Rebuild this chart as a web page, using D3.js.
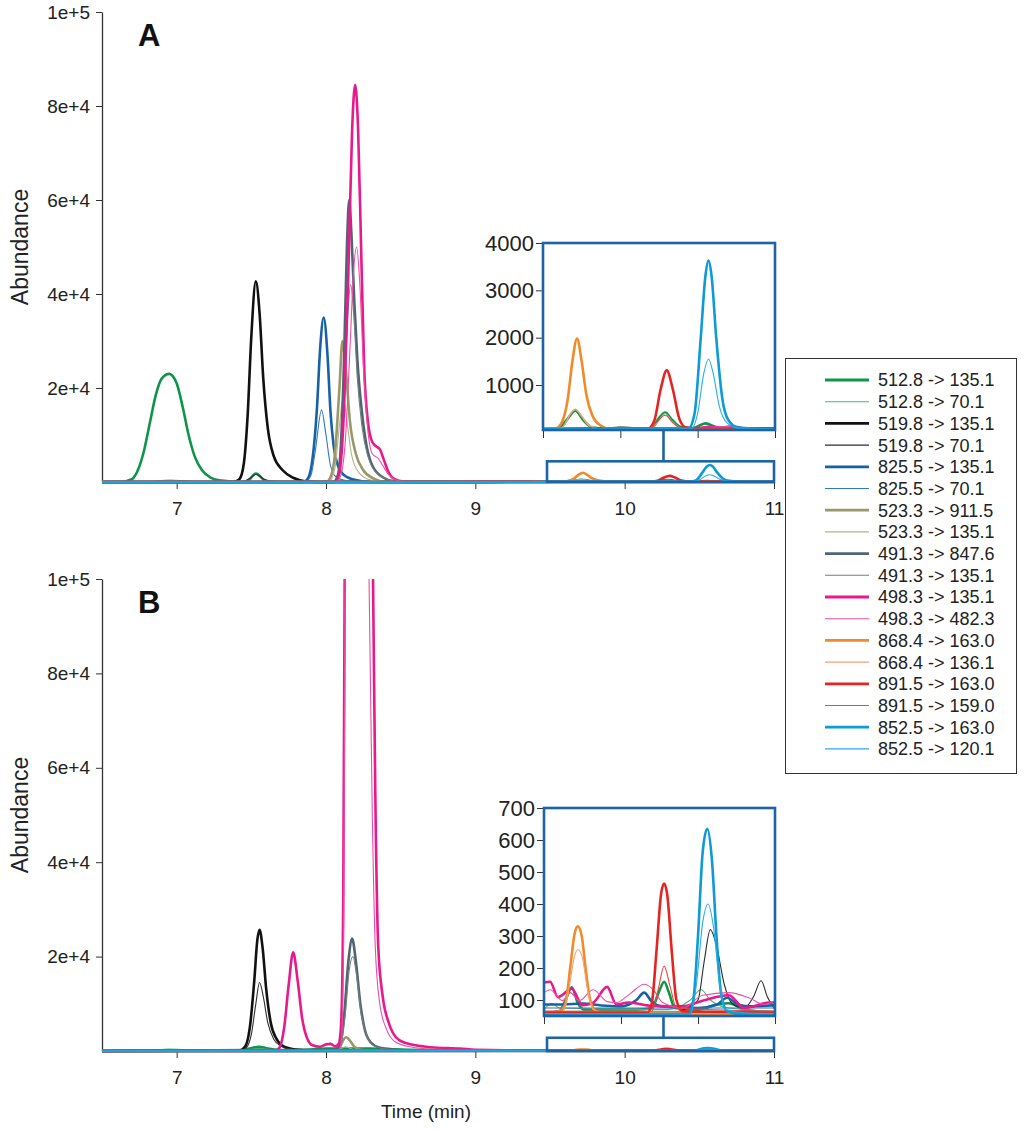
<!DOCTYPE html>
<html lang="en">
<head>
<meta charset="UTF-8">
<title>MRM chromatograms A / B</title>
<style>
  body { margin: 0; background: #fff; }
  svg { display: block; font-family: "Liberation Sans", Arial, sans-serif; }
  .tick line { stroke: #333; }
  .tick text { fill: #222; }
</style>
</head>
<body>
<svg width="1024" height="1130"></svg>
<script src="https://d3js.org/d3.v7.min.js"></script>
<script>
// transitions, as in the legend
const traceLabels = [
  "512.8 -> 135.1", "512.8 -> 70.1", "519.8 -> 135.1", "519.8 -> 70.1",
  "825.5 -> 135.1", "825.5 -> 70.1", "523.3 -> 911.5", "523.3 -> 135.1",
  "491.3 -> 847.6", "491.3 -> 135.1", "498.3 -> 135.1", "498.3 -> 482.3",
  "868.4 -> 163.0", "868.4 -> 136.1", "891.5 -> 163.0", "891.5 -> 159.0",
  "852.5 -> 163.0", "852.5 -> 120.1"
];
const traceColors = [
  "#0e9548", "#4bb37a", "#111111", "#2e2e2e",
  "#1762a6", "#3079bd", "#98986a", "#b5b38e",
  "#4f6474", "#71817a", "#e8198b", "#ec4fa3",
  "#f08a2a", "#f2a37a", "#e52421", "#e84a44",
  "#0d9ad6", "#28aee3"
];
const traceThick = [true, false, true, false, true, false, true, false, true,
  false, true, false, true, false, true, false, true, false];

// axis ticks
const xTicks = [7, 8, 9, 10, 11];
const yTickValues = [20000, 40000, 60000, 80000, 100000];
const yTickLabels = ["2e+4", "4e+4", "6e+4", "8e+4", "1e+5"];
const insetXTicks = [9.5, 10, 10.5, 11];
const insetATicks = [1000, 2000, 3000, 4000];
const insetBTicks = [100, 200, 300, 400, 500, 600, 700];
const insetADomain = [50, 4000];
const insetBDomain = [50, 700];
const zoomWindow = [9.48, 11];
const zoomBoxTopA = 4400;
const zoomBoxTopB = 2800;
const connectorTime = 10.26;

// ---- panel A: [time (min), abundance] ----
const a512_135 = [[6.5,0],[6.62,0],[6.7,600],[6.74,2500],[6.78,6500],[6.82,12500],[6.86,18500],[6.9,22000],[6.95,23000],[7.0,21000],[7.04,16000],[7.08,10000],[7.12,5500],[7.17,2500],[7.23,900],[7.3,300],[7.4,60],[7.47,80],[7.53,1800],[7.6,200],[7.7,40],[9.5,70],[9.6,80],[9.65,250],[9.71,460],[9.76,260],[9.82,100],[9.9,75],[10.2,80],[10.25,300],[10.29,420],[10.33,280],[10.39,110],[10.47,90],[10.55,190],[10.62,110],[10.7,80],[11,75]];
const a512_70 = [[6.5,0],[6.8,0],[6.9,300],[6.96,420],[7.05,250],[7.2,0],[9.5,65],[9.8,70],[10.5,65],[11,65]];
const a519_135 = [[6.5,0],[7.38,0],[7.42,600],[7.45,4000],[7.475,14000],[7.5,31000],[7.53,42700],[7.555,36000],[7.58,22000],[7.61,11500],[7.65,5500],[7.71,2500],[7.78,900],[7.86,150],[7.95,0],[9.5,70],[9.9,80],[10.0,95],[10.1,85],[10.5,80],[11,85]];
const a519_70 = [[6.5,0],[7.44,0],[7.49,800],[7.53,1600],[7.58,700],[7.65,0],[9.5,65],[11,70]];
const a825_135 = [[6.5,0],[7.85,0],[7.88,800],[7.91,5000],[7.94,16000],[7.96,28000],[7.985,35000],[8.01,27000],[8.03,15000],[8.05,8000],[8.08,3500],[8.12,1500],[8.2,400],[8.3,0],[9.5,60],[10.0,70],[10.5,65],[11,70]];
const a825_70 = [[6.5,0],[7.86,0],[7.9,1500],[7.93,7000],[7.97,15300],[8.0,10000],[8.03,3500],[8.07,1000],[8.15,200],[8.25,0],[9.5,60],[11,65]];
const a523_911 = [[6.5,0],[8.0,0],[8.03,1000],[8.06,6000],[8.09,20000],[8.11,30000],[8.135,23000],[8.16,13000],[8.2,6000],[8.25,2500],[8.32,700],[8.4,0],[9.5,60],[11,65]];
const a523_135 = [[6.5,0],[8.02,0],[8.06,3000],[8.09,12000],[8.115,18000],[8.14,13000],[8.17,6000],[8.22,2000],[8.3,400],[8.4,0],[9.5,60],[9.62,100],[9.67,350],[9.71,490],[9.75,330],[9.8,130],[9.88,70],[10.2,75],[10.25,260],[10.29,400],[10.33,250],[10.4,80],[11,70]];
const a491_847 = [[6.5,0],[8.05,0],[8.08,1500],[8.1,8000],[8.12,25000],[8.14,50000],[8.155,60000],[8.17,53000],[8.19,38000],[8.21,26000],[8.24,15000],[8.27,8000],[8.31,3500],[8.38,1000],[8.45,200],[8.55,0],[9.5,65],[11,70]];
const a491_135 = [[6.5,0],[8.06,0],[8.09,2000],[8.12,15000],[8.145,35000],[8.165,42000],[8.185,36000],[8.21,22000],[8.24,12000],[8.28,5500],[8.33,2200],[8.4,700],[8.5,0],[9.5,60],[11,60]];
const a498_135 = [[6.5,0],[8.06,0],[8.09,2000],[8.12,15000],[8.15,45000],[8.175,75000],[8.195,84500],[8.215,75000],[8.235,50000],[8.255,25000],[8.28,13000],[8.31,8500],[8.34,7500],[8.36,7000],[8.39,4500],[8.42,2000],[8.46,600],[8.52,100],[8.6,0],[9.5,65],[10.4,70],[10.5,90],[10.58,120],[10.65,100],[10.72,130],[10.8,85],[10.9,70],[11,70]];
const a498_482 = [[6.5,0],[8.07,0],[8.1,1500],[8.13,9000],[8.16,28000],[8.185,45000],[8.205,50000],[8.225,43000],[8.25,25000],[8.28,11000],[8.31,6000],[8.35,5000],[8.38,3500],[8.42,1500],[8.47,400],[8.55,0],[9.5,60],[10.0,70],[10.15,75],[10.25,90],[10.35,80],[10.6,110],[10.7,125],[10.8,95],[11,75]];
const a868_163 = [[6.5,0],[9.3,0],[9.5,70],[9.58,80],[9.62,200],[9.66,700],[9.69,1500],[9.72,1980],[9.75,1500],[9.78,800],[9.82,350],[9.87,150],[9.93,80],[10.5,75],[11,70]];
const a868_136 = [[6.5,0],[9.4,0],[9.5,65],[9.6,70],[9.64,150],[9.68,400],[9.71,480],[9.75,350],[9.8,150],[9.86,80],[11,65]];
const a891_163 = [[6.5,0],[9.4,0],[9.5,65],[10.15,75],[10.18,80],[10.22,250],[10.26,900],[10.3,1310],[10.34,900],[10.38,300],[10.42,110],[10.5,80],[11,70]];
const a891_159 = [[6.5,0],[9.4,0],[9.5,60],[10.18,70],[10.23,200],[10.29,360],[10.34,200],[10.4,80],[11,65]];
const a852_163 = [[6.5,0],[9.4,0],[9.5,70],[10.44,80],[10.48,400],[10.52,2000],[10.55,3300],[10.57,3630],[10.59,3300],[10.62,2000],[10.66,700],[10.7,250],[10.76,100],[10.85,80],[11,75]];
const a852_120 = [[6.5,0],[9.4,0],[9.5,65],[10.46,80],[10.5,400],[10.54,1250],[10.57,1550],[10.6,1250],[10.64,550],[10.69,200],[10.76,90],[11,70]];

// ---- panel B ----
const b512_135 = [[6.5,0],[7.4,100],[7.5,600],[7.55,900],[7.6,600],[7.7,150],[7.9,300],[8.0,500],[8.3,500],[8.5,300],[9.0,100],[9.5,60],[9.6,65],[9.64,100],[9.68,140],[9.72,90],[9.76,70],[9.9,70],[10.1,70],[10.2,75],[10.25,130],[10.28,157],[10.31,125],[10.35,75],[10.5,70],[10.62,85],[10.7,90],[10.8,70],[11,60]];
const b512_70 = [[6.5,0],[6.8,100],[6.95,400],[7.1,200],[7.4,100],[7.55,500],[7.7,100],[9.5,70],[9.55,90],[9.6,75],[10.3,70],[10.45,100],[10.52,132],[10.58,100],[10.7,75],[11,65]];
const b519_135 = [[6.5,0],[7.42,100],[7.46,1000],[7.49,5000],[7.52,15000],[7.54,23500],[7.555,25700],[7.575,22000],[7.6,13000],[7.63,6000],[7.67,2500],[7.72,900],[7.8,300],[7.9,100],[9.5,60],[11,60]];
const b519_70 = [[6.5,0],[7.43,100],[7.47,800],[7.5,3500],[7.53,10000],[7.555,14500],[7.58,11500],[7.61,6000],[7.65,2500],[7.7,1000],[7.78,300],[7.9,100],[9.5,60],[10.3,60],[10.45,80],[10.5,100],[10.54,220],[10.58,320],[10.62,270],[10.67,150],[10.72,90],[10.8,75],[10.86,110],[10.91,160],[10.95,110],[11,70]];
const b825_135 = [[6.5,0],[7.5,100],[9.0,100],[9.5,86],[9.62,86],[9.75,89],[9.9,82],[10.0,80],[10.1,100],[10.15,123],[10.2,95],[10.26,80],[10.5,75],[10.62,85],[10.69,107],[10.76,85],[10.85,80],[11,84]];
const b825_70 = [[6.5,0],[9.5,75],[11,75]];
const b523_911 = [[6.5,0],[8.05,100],[8.09,700],[8.115,2300],[8.135,2900],[8.16,2200],[8.19,900],[8.23,250],[8.3,100],[9.5,60],[11,60]];
const b523_135 = [[6.5,0],[8.07,100],[8.13,900],[8.2,200],[9.5,65],[11,65]];
const b491_847 = [[6.5,0],[7.5,200],[8.0,200],[8.06,300],[8.09,1000],[8.12,7000],[8.15,19000],[8.175,23800],[8.2,19000],[8.23,10000],[8.26,4500],[8.3,1800],[8.36,700],[8.45,300],[8.55,100],[9.5,60],[11,58]];
const b491_135 = [[6.5,0],[8.07,100],[8.1,1200],[8.13,8000],[8.155,17000],[8.18,20000],[8.205,16000],[8.235,8000],[8.27,3500],[8.31,1400],[8.38,500],[8.5,150],[9.5,62],[11,60]];
const b498_135 = [[6.5,0],[7.0,100],[7.66,100],[7.69,800],[7.72,5000],[7.75,14000],[7.78,20900],[7.81,15000],[7.84,7000],[7.87,3000],[7.91,1200],[7.96,900],[8.0,1400],[8.03,1500],[8.06,1000],[8.085,1500],[8.1,5000],[8.115,30000],[8.125,100000],[8.16,220000],[8.22,280000],[8.28,200000],[8.315,100000],[8.33,55000],[8.35,22000],[8.38,11500],[8.42,6000],[8.49,2300],[8.6,1200],[8.7,800],[8.9,500],[9.0,250],[9.2,150],[9.5,155],[9.54,157],[9.59,109],[9.68,135],[9.75,84],[9.82,92],[9.91,141],[9.97,86],[10.05,92],[10.2,82],[10.4,80],[10.53,98],[10.7,115],[10.8,75],[10.97,92],[11,92]];
const b498_482 = [[6.5,0],[7.0,100],[8.0,200],[8.09,300],[8.105,3000],[8.118,25000],[8.128,100000],[8.16,200000],[8.21,240000],[8.26,180000],[8.288,100000],[8.31,50000],[8.33,22000],[8.36,10000],[8.4,5000],[8.47,1800],[8.6,700],[8.8,300],[9.0,150],[9.5,123],[9.54,132],[9.62,98],[9.67,123],[9.73,98],[9.82,132],[9.91,95],[9.97,92],[10.06,120],[10.15,149],[10.21,132],[10.27,92],[10.4,75],[10.53,115],[10.7,123],[10.83,107],[10.93,86],[11,98]];
const b868_163 = [[6.5,0],[9.5,60],[9.6,65],[9.64,90],[9.67,200],[9.7,310],[9.72,330],[9.745,300],[9.77,200],[9.8,100],[9.84,65],[9.9,60],[10.5,55],[11,55]];
const b868_136 = [[6.5,0],[9.5,58],[9.62,60],[9.66,130],[9.7,240],[9.72,258],[9.75,230],[9.78,140],[9.82,70],[9.9,60],[11,58]];
const b891_163 = [[6.5,0],[9.5,62],[10.17,60],[10.2,90],[10.23,250],[10.26,430],[10.28,464],[10.3,430],[10.33,250],[10.36,100],[10.4,65],[11,62]];
const b891_159 = [[6.5,0],[9.5,65],[10.2,65],[10.24,130],[10.28,206],[10.32,140],[10.36,75],[11,65]];
const b852_163 = [[6.5,0],[9.5,55],[10.44,55],[10.47,100],[10.5,300],[10.53,560],[10.56,635],[10.59,540],[10.62,300],[10.65,120],[10.69,65],[10.8,55],[11,55]];
const b852_120 = [[6.5,0],[9.5,58],[10.45,55],[10.49,150],[10.53,340],[10.565,400],[10.6,330],[10.64,150],[10.68,70],[10.8,60],[11,58]];

const tracesA = [a512_135, a512_70, a519_135, a519_70, a825_135, a825_70, a523_911, a523_135,
  a491_847, a491_135, a498_135, a498_482, a868_163, a868_136, a891_163, a891_159, a852_163, a852_120];
const tracesB = [b512_135, b512_70, b519_135, b519_70, b825_135, b825_70, b523_911, b523_135,
  b491_847, b491_135, b498_135, b498_482, b868_163, b868_136, b891_163, b891_159, b852_163, b852_120];

const svg = d3.select("svg");
const boxBlue = "#1d63a5";
const plotLeft = 102, plotRight = 774;

const x = d3.scaleLinear().domain([6.5, 11]).range([plotLeft, plotRight]);

function drawPanel(id, traces, o) {
  const y = d3.scaleLinear().domain([0, 100000]).range([o.bottom, o.top]);
  const g = svg.append("g");

  g.append("clipPath").attr("id", "clip" + id)
    .append("rect")
    .attr("x", plotLeft).attr("y", o.top)
    .attr("width", plotRight - plotLeft).attr("height", o.bottom - o.top + 2);

  const line = d3.line()
    .x(d => x(d[0]))
    .y(d => y(d[1]))
    .curve(d3.curveMonotoneX);

  // axes
  g.append("g")
    .attr("transform", `translate(0,${o.bottom})`)
    .call(d3.axisBottom(x).tickValues(xTicks).tickFormat(d3.format("d"))
      .tickSize(7).tickSizeOuter(0).tickPadding(13))
    .call(a => a.attr("font-size", 19).attr("font-family", null))
    .call(a => a.select(".domain").attr("stroke", "#333").attr("stroke-width", 1.3));

  g.append("g")
    .attr("transform", `translate(${plotLeft},0)`)
    .call(d3.axisLeft(y).tickValues(yTickValues).tickFormat((d, i) => yTickLabels[i])
      .tickSize(6).tickSizeOuter(0).tickPadding(6))
    .call(a => a.attr("font-size", 19).attr("font-family", null))
    .call(a => a.select(".domain").attr("stroke", "#333").attr("stroke-width", 1.3));

  g.append("text")
    .attr("transform", `translate(22,${(o.top + o.bottom) / 2}) rotate(-90)`)
    .attr("text-anchor", "middle")
    .attr("dominant-baseline", "middle")
    .attr("font-size", 23)
    .attr("fill", "#222")
    .text("Abundance");

  g.append("text")
    .attr("x", 138).attr("y", o.top + 34)
    .attr("font-size", 31).attr("font-weight", "bold")
    .attr("fill", "#111")
    .text(o.letter);

  // traces
  g.append("g").attr("clip-path", `url(#clip${id})`)
    .selectAll("path")
    .data(traces)
    .join("path")
    .attr("fill", "none")
    .attr("stroke", (d, i) => traceColors[i])
    .attr("stroke-width", (d, i) => traceThick[i] ? 2.6 : 1.1)
    .attr("stroke-linejoin", "round")
    .attr("d", line);

  // zoom window on the baseline
  const wx0 = x(zoomWindow[0]), wx1 = x(zoomWindow[1]);
  const wy = y(o.windowTop);
  g.append("rect")
    .attr("x", wx0).attr("y", wy)
    .attr("width", wx1 - wx0).attr("height", o.bottom - wy)
    .attr("fill", "none").attr("stroke", boxBlue).attr("stroke-width", 2.6);

  // inset
  const ix = d3.scaleLinear().domain([9.5, 11]).range([o.inset.x0, o.inset.x1]);
  const iy = d3.scaleLinear().domain(o.inset.domain).range([o.inset.y1, o.inset.y0]);

  g.append("line")
    .attr("x1", x(connectorTime)).attr("x2", x(connectorTime))
    .attr("y1", o.inset.y1).attr("y2", wy)
    .attr("stroke", boxBlue).attr("stroke-width", 2.6);

  g.append("clipPath").attr("id", "iclip" + id)
    .append("rect")
    .attr("x", o.inset.x0).attr("y", o.inset.y0)
    .attr("width", o.inset.x1 - o.inset.x0).attr("height", o.inset.y1 - o.inset.y0);

  g.append("rect")
    .attr("x", o.inset.x0).attr("y", o.inset.y0)
    .attr("width", o.inset.x1 - o.inset.x0).attr("height", o.inset.y1 - o.inset.y0)
    .attr("fill", "#fff");

  const iline = d3.line()
    .x(d => ix(d[0]))
    .y(d => iy(Math.max(d[1], o.inset.domain[0] - 20)))
    .curve(d3.curveMonotoneX);

  g.append("g").attr("clip-path", `url(#iclip${id})`)
    .selectAll("path")
    .data(traces)
    .join("path")
    .attr("fill", "none")
    .attr("stroke", (d, i) => traceColors[i])
    .attr("stroke-width", (d, i) => traceThick[i] ? 2.6 : 1.1)
    .attr("stroke-linejoin", "round")
    .attr("d", d => iline(d.filter(p => p[0] >= 9.3)));

  g.append("g")
    .attr("transform", `translate(0,${o.inset.y1})`)
    .call(d3.axisBottom(ix).tickValues(insetXTicks).tickFormat("").tickSize(8).tickSizeOuter(0))
    .call(a => a.select(".domain").remove());

  g.append("g")
    .attr("transform", `translate(${o.inset.x0},0)`)
    .call(d3.axisLeft(iy).tickValues(o.inset.ticks).tickFormat(d3.format("d"))
      .tickSize(7).tickPadding(2))
    .call(a => a.attr("font-size", 22).attr("font-family", null))
    .call(a => a.select(".domain").remove());

  g.append("rect")
    .attr("x", o.inset.x0).attr("y", o.inset.y0)
    .attr("width", o.inset.x1 - o.inset.x0).attr("height", o.inset.y1 - o.inset.y0)
    .attr("fill", "none").attr("stroke", boxBlue).attr("stroke-width", 2.6);
}

drawPanel("A", tracesA, {
  top: 12, bottom: 482, letter: "A", windowTop: zoomBoxTopA,
  inset: { x0: 543, x1: 775, y0: 243, y1: 430, domain: insetADomain, ticks: insetATicks }
});
drawPanel("B", tracesB, {
  top: 579, bottom: 1051, letter: "B", windowTop: zoomBoxTopB,
  inset: { x0: 544, x1: 775, y0: 808, y1: 1016, domain: insetBDomain, ticks: insetBTicks }
});

svg.append("text")
  .attr("x", 426).attr("y", 1118)
  .attr("text-anchor", "middle")
  .attr("font-size", 19)
  .attr("fill", "#222")
  .text("Time (min)");

// legend
const legend = svg.append("g");
legend.append("rect")
  .attr("x", 785.5).attr("y", 358.5)
  .attr("width", 231).attr("height", 415)
  .attr("fill", "#fff").attr("stroke", "#333").attr("stroke-width", 1);

const item = legend.selectAll("g.item")
  .data(traceLabels)
  .join("g")
  .attr("class", "item")
  .attr("transform", (d, i) => `translate(0,${380 + i * 21.7})`);

item.append("line")
  .attr("x1", 825).attr("x2", 869)
  .attr("stroke", (d, i) => traceColors[i])
  .attr("stroke-width", (d, i) => traceThick[i] ? 2.8 : 1.1);

item.append("text")
  .attr("x", 878)
  .attr("dy", "0.36em")
  .attr("font-size", 18)
  .attr("fill", "#222")
  .text(d => d);
</script>
</body>
</html>
